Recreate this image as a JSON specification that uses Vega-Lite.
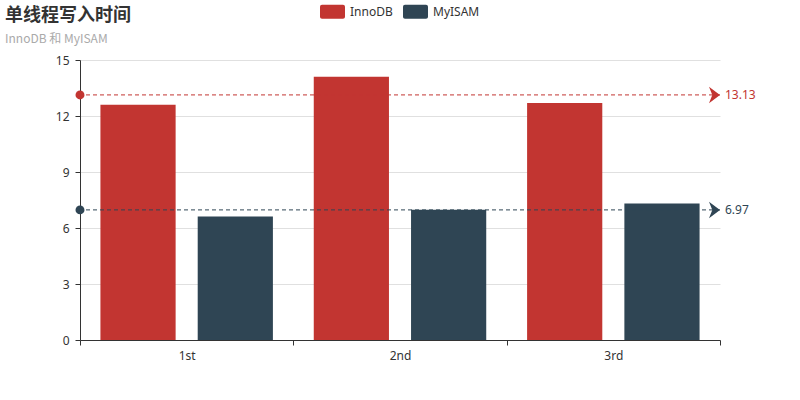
{
  "$schema": "https://vega.github.io/schema/vega-lite/v6.json",
  "autosize": "none",
  "width": 640,
  "height": 280,
  "padding": {"left": 80, "top": 60, "right": 80, "bottom": 60},
  "background": "white",
  "config": {
    "view": {"stroke": null},
    "font": "Noto Sans",
    "axis": {"labelFont": "Noto Sans", "labelColor": "#333", "labelFontSize": 12}
  },
  "title": {
    "text": "单线程写入时间",
    "subtitle": "InnoDB 和 MyISAM",
    "anchor": "start",
    "frame": "group",
    "dx": -75,
    "dy": 46,
    "offset": 0,
    "font": "Noto Sans CJK SC",
    "fontSize": 18,
    "fontWeight": "bold",
    "color": "#333",
    "subtitleFont": "Noto Sans CJK SC",
    "subtitleFontSize": 12,
    "subtitleColor": "#aaa",
    "subtitlePadding": 9
  },
  "datasets": {
    "bars": [
      {"cat": "1st", "engine": "InnoDB", "value": 12.6},
      {"cat": "2nd", "engine": "InnoDB", "value": 14.1},
      {"cat": "3rd", "engine": "InnoDB", "value": 12.7},
      {"cat": "1st", "engine": "MyISAM", "value": 6.62},
      {"cat": "2nd", "engine": "MyISAM", "value": 6.98},
      {"cat": "3rd", "engine": "MyISAM", "value": 7.31}
    ],
    "means": [
      {"engine": "InnoDB", "mean": 13.13, "label": "13.13", "start": "1st", "end": "3rd"},
      {"engine": "MyISAM", "mean": 6.97, "label": "6.97", "start": "1st", "end": "3rd"}
    ]
  },
  "layer": [
    {
      "data": {"name": "bars"},
      "mark": {"type": "bar"},
      "encoding": {
        "x": {
          "field": "cat", "type": "nominal", "sort": ["1st", "2nd", "3rd"],
          "scale": {"paddingInner": 0, "paddingOuter": 0},
          "axis": {"title": null, "labelAngle": 0, "tickBand": "extent", "domainColor": "#333", "tickColor": "#333", "tickSize": 5, "labelPadding": 5, "grid": false}
        },
        "xOffset": {
          "field": "engine", "type": "nominal", "sort": ["InnoDB", "MyISAM"],
          "scale": {"paddingInner": 0.227, "paddingOuter": 0.21}
        },
        "y": {
          "field": "value", "type": "quantitative",
          "scale": {"domain": [0, 15], "nice": false},
          "axis": {"title": null, "values": [0, 3, 6, 9, 12, 15], "grid": true, "gridColor": "#e0e0e0", "domainColor": "#333", "tickColor": "#333", "tickSize": 5, "labelPadding": 6}
        },
        "color": {
          "field": "engine", "type": "nominal",
          "scale": {"domain": ["InnoDB", "MyISAM"], "range": ["#c23531", "#2f4554"]},
          "legend": {
            "title": null,
            "orient": "none",
            "direction": "horizontal",
            "legendX": 240,
            "legendY": -61,
            "symbolType": "M-0.84,-0.56 L0.84,-0.56 A0.16,0.16 0 0 1 1,-0.4 L1,0.4 A0.16,0.16 0 0 1 0.84,0.56 L-0.84,0.56 A0.16,0.16 0 0 1 -1,0.4 L-1,-0.4 A0.16,0.16 0 0 1 -0.84,-0.56 Z",
            "symbolSize": 625,
            "symbolStrokeWidth": 0,
            "labelFontSize": 12,
            "labelColor": "#333",
            "labelOffset": 5,
            "columnPadding": 10
          }
        }
      }
    },
    {
      "data": {"name": "means"},
      "mark": {"type": "rule", "strokeDash": [4, 3], "strokeWidth": 1},
      "encoding": {
        "y": {"field": "mean", "type": "quantitative"},
        "color": {"field": "engine", "type": "nominal", "legend": null}
      }
    },
    {
      "data": {"name": "means"},
      "mark": {"type": "point", "shape": "circle", "filled": true, "opacity": 1, "size": 80},
      "encoding": {
        "x": {"field": "start", "type": "nominal", "bandPosition": 0},
        "y": {"field": "mean", "type": "quantitative"},
        "color": {"field": "engine", "type": "nominal", "legend": null}
      }
    },
    {
      "data": {"name": "means"},
      "mark": {"type": "point", "shape": "M-1,-0.75 L0,0 L-1,0.75 L-0.7,0 Z", "filled": true, "opacity": 1, "size": 484},
      "encoding": {
        "x": {"field": "end", "type": "nominal", "bandPosition": 1},
        "y": {"field": "mean", "type": "quantitative"},
        "color": {"field": "engine", "type": "nominal", "legend": null}
      }
    },
    {
      "data": {"name": "means"},
      "mark": {"type": "text", "align": "left", "baseline": "middle", "dx": 5, "fontSize": 12, "font": "Noto Sans"},
      "encoding": {
        "x": {"field": "end", "type": "nominal", "bandPosition": 1},
        "y": {"field": "mean", "type": "quantitative"},
        "text": {"field": "label"},
        "color": {"field": "engine", "type": "nominal", "legend": null}
      }
    }
  ],
  "resolve": {"scale": {"x": "shared"}}
}
